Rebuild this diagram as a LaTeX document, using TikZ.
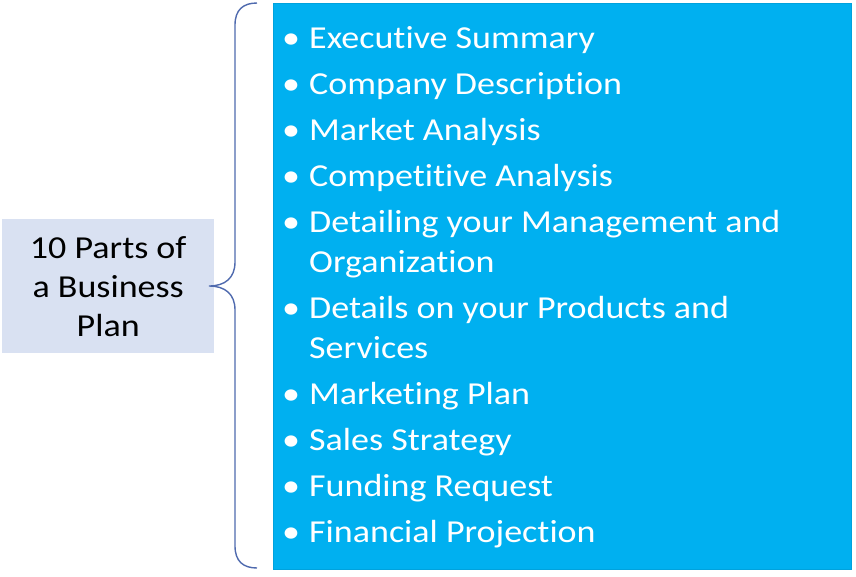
\documentclass[tikz,border=0pt]{standalone}
\usepackage{fontspec}
\setmainfont[FakeStretch=1.125,Ligatures={NoCommon}]{Carlito}
\definecolor{cyanbox}{HTML}{00B0F0}
\definecolor{leftbox}{HTML}{D9E1F2}
\definecolor{bracec}{HTML}{4F6AAE}
\begin{document}
\begin{tikzpicture}[x=1pt,y=-1pt,
  itemtxt/.style={anchor=base west,inner sep=0pt,text=white,font=\fontsize{32}{40}\selectfont},
  bul/.style={anchor=base,inner sep=0pt,text=white,font=\fontsize{32}{40}\selectfont}]
\useasboundingbox (0,0) rectangle (856,576);
\node[fill=leftbox,minimum width=212pt,minimum height=134pt,inner sep=0pt,anchor=north west,
  align=center,font=\fontsize{32}{39}\selectfont] (lb) at (2,219) {10 Parts of\\a Business\\Plan};
\node[fill=cyanbox,draw=cyanbox!92!black,line width=0.5pt,minimum width=578pt,minimum height=566pt,inner sep=0pt,anchor=north west] (rb) at (273,3) {};
\coordinate (bt) at (257,3);
\coordinate (bb) at (257,568);
\coordinate (tip) at (209,286);
\draw[bracec,line width=1.4pt] (bt) .. controls (243,3) and (235,10) .. (235,25) -- (235,262)
  .. controls (235,278) and (225,286) .. (tip)
  .. controls (225,286) and (235,294) .. (235,310) -- (235,546)
  .. controls (235,561) and (243,568) .. (bb);
\foreach \y/\t [count=\i] in {48/Executive Summary,94/Company Description,140/Market Analysis,186/Competitive Analysis,232/Detailing your Management and,318/Details on your Products and,404/Marketing Plan,450/Sales Strategy,496/Funding Request,542/Financial Projection}{
  \node[bul] (b\i) at (291,\y) {•};
  \node[itemtxt] (t\i) at (309,\y) {\t};
}
\node[itemtxt] (w1) at (309,272) {Organization};
\node[itemtxt] (w2) at (309,358) {Services};
\end{tikzpicture}
\end{document}
